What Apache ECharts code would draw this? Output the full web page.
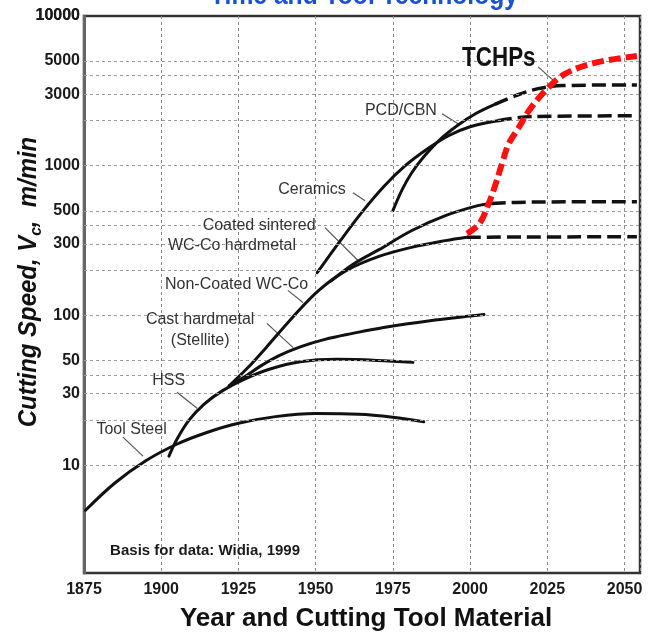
<!DOCTYPE html>
<html>
<head>
<meta charset="utf-8">
<script src="https://cdn.jsdelivr.net/npm/echarts@6/dist/echarts.min.js"></script>
<style>
html,body{margin:0;padding:0;background:#fff;}
#chart{width:657px;height:638px;}
</style>
</head>
<body>
<div id="chart"></div>
<script>
// ---------- data ----------
const xTickLabels = [1875, 1900, 1925, 1950, 1975, 2000, 2025, 2050];
const yGridValues = [10000, 5000, 4000, 3000, 2000, 1000, 500, 400, 300, 200, 100, 50, 40, 30, 20, 10];
const yTickLabels = [10000, 5000, 3000, 1000, 500, 300, 100, 50, 30, 10];

const toolSteelYears = [1875.5, 1885, 1895, 1905, 1915, 1925, 1937, 1950, 1964, 1975, 1985];
const toolSteelSpeed = [5.0, 7.6, 10.7, 13.8, 16.6, 19.05, 21.1, 22.1, 21.9, 20.9, 19.5];

const hssYears = [1902.5, 1905, 1909, 1914, 1920, 1927, 1935, 1945, 1957, 1970, 1981.5];
const hssSpeed = [11.5, 14.8, 20, 25.7, 31.6, 37.6, 43.7, 49, 50.9, 50.1, 48.6];

const castYears = [1922, 1927, 1932, 1938, 1945, 1953, 1962, 1972, 1987, 2004.5];
const castSpeed = [33.9, 38.9, 45.7, 53.7, 61.7, 69.2, 75.9, 83.2, 92.3, 101.6];

const nonCoatedYears = [1922, 1928, 1934, 1942.5, 1951, 1960, 1970.5, 1981, 1992, 1999];
const nonCoatedSpeed = [33.9, 44.7, 61.2, 97, 147, 200, 248, 285, 316, 333];
const nonCoatedFutureYears = [1999, 2054];
const nonCoatedFutureSpeed = [333, 336];

const coatedYears = [1955, 1962, 1970.5, 1981, 1992, 2002.5, 2007];
const coatedSpeed = [170, 219, 275, 368, 464, 541, 560];
const coatedFutureYears = [2007, 2020, 2054];
const coatedFutureSpeed = [560, 572, 575];

const ceramicsYears = [1950.5, 1958, 1965, 1972, 1979, 1986, 1993, 2000, 2009];
const ceramicsSpeed = [193, 316, 490, 724, 1000, 1288, 1585, 1820, 1995];
const ceramicsFutureYears = [2009, 2020, 2054];
const ceramicsFutureSpeed = [1995, 2130, 2154];

const pcdYears = [1975, 1978, 1981, 1985, 1990, 1996, 2002, 2008];
const pcdSpeed = [501, 692, 891, 1148, 1479, 1862, 2239, 2570];
const pcdFutureYears = [2008, 2015, 2022, 2030, 2054];
const pcdFutureSpeed = [2570, 2951, 3273, 3428, 3467];

const tchpYears = [1999, 2003, 2006, 2008.3, 2010.3, 2012.5, 2015.7, 2019, 2024.3, 2030.7, 2040.3, 2054];
const tchpSpeed = [352, 410, 558, 759, 1032, 1402, 1792, 2326, 3162, 4102, 4862, 5412];

const annoLabels = ['TCHPs', 'PCD/CBN', 'Ceramics', 'Coated sintered', 'WC-Co hardmetal', 'Non-Coated WC-Co', 'Cast hardmetal', '(Stellite)', 'HSS', 'Tool Steel', 'Basis for data: Widia, 1999'];
const annoYears = [2009.3, 1977.6, 1948.8, 1931.7, 1922.9, 1924.4, 1912.6, 1912.6, 1902.4, 1890.4, 1914.2];
const annoSpeeds = [5248, 2326, 697, 401, 293, 160, 93.3, 67.6, 36.9, 17.3, 2.67];

const leaderFromYears = [2022, 1990.9, 1962.1, 1953.0, 1941.0, 1934.2, 1905.1, 1887.6];
const leaderFromSpeeds = [4571, 2222, 661, 386, 147, 88.5, 30.7, 15.4];
const leaderToYears = [2027.8, 1996.1, 1966.0, 1963.7, 1945.9, 1942.7, 1911.6, 1894.1];
const leaderToSpeeds = [3589, 1905, 584, 233, 122, 61, 24, 11.5];

// ---------- chart ----------
const zip = (a, b) => a.map((v, i) => [v, b[i]]);
const FONT = '"Liberation Sans", Arial, sans-serif';

const solid = (name, xs, ys, extra) => Object.assign({
  type: 'line', name: name, data: zip(xs, ys), smooth: 0.35, showSymbol: false, symbol: 'none',
  lineStyle: { color: '#111', width: 3, cap: 'round' }, silent: true, z: 3
}, extra || {});
const dashed = (name, xs, ys) => ({
  type: 'line', name: name, data: zip(xs, ys), smooth: 0.35, showSymbol: false, symbol: 'none',
  lineStyle: { color: '#111', width: 3.5, type: [14, 6] }, silent: true, z: 3
});

const chart = echarts.init(document.getElementById('chart'), null, { renderer: 'canvas' });

const option = {
  animation: false,
  backgroundColor: '#fff',
  grid: { left: 84, right: 17, top: 16, bottom: 65, show: true, borderColor: '#333', borderWidth: 2.5, backgroundColor: '#fff' },
  xAxis: {
    type: 'value', min: 1875, max: 2055, interval: 25,
    axisLine: { show: false }, axisTick: { show: false },
    splitLine: { show: true, lineStyle: { color: '#8a8a8a', width: 1, type: [3, 3] } },
    axisLabel: {
      margin: 9, color: '#1a1a1a', fontFamily: FONT, fontWeight: 'bold', fontSize: 16,
      formatter: v => xTickLabels.includes(v) ? String(v) : ''
    }
  },
  yAxis: {
    type: 'log', logBase: 10, min: 1.905, max: 10000,
    axisLabel: { show: false }, axisTick: { show: false }, splitLine: { show: false },
    axisLine: { show: true, lineStyle: { color: '#666', width: 3 } }
  },
  series: [
    solid('Tool Steel', toolSteelYears, toolSteelSpeed, {
      markLine: {
        silent: true, symbol: ['none', 'none'], animation: false,
        lineStyle: { color: '#9a9a9a', width: 1, type: [3, 3] },
        label: {
          position: 'start', distance: 4, color: '#1a1a1a', fontFamily: FONT, fontWeight: 'bold', fontSize: 16,
          formatter: p => String(p.value)
        },
        emphasis: { disabled: true },
        data: yGridValues.map(v => ({
          yAxis: v,
          lineStyle: v === 10000 ? { color: 'rgba(0,0,0,0)', width: 0 } : {},
          label: { show: yTickLabels.includes(v), color: '#1a1a1a', opacity: 1 }
        }))
      }
    }),
    solid('HSS', hssYears, hssSpeed),
    solid('Cast hardmetal', castYears, castSpeed),
    solid('Non-Coated WC-Co', nonCoatedYears, nonCoatedSpeed),
    dashed('Non-Coated WC-Co future', nonCoatedFutureYears, nonCoatedFutureSpeed),
    solid('Coated', coatedYears, coatedSpeed),
    dashed('Coated future', coatedFutureYears, coatedFutureSpeed),
    solid('Ceramics', ceramicsYears, ceramicsSpeed),
    dashed('Ceramics future', ceramicsFutureYears, ceramicsFutureSpeed),
    solid('PCD/CBN', pcdYears, pcdSpeed),
    dashed('PCD/CBN future', pcdFutureYears, pcdFutureSpeed),
    {
      type: 'lines', coordinateSystem: 'cartesian2d', silent: true, z: 2,
      lineStyle: { color: '#555', width: 1.2, opacity: 1 },
      data: leaderFromYears.map((y, i) => ({ coords: [[y, leaderFromSpeeds[i]], [leaderToYears[i], leaderToSpeeds[i]]] }))
    },
    {
      type: 'line', name: 'TCHPs', data: zip(tchpYears, tchpSpeed), smooth: 0.35, showSymbol: false, symbol: 'none',
      lineStyle: { color: '#ff1010', width: 6, type: [12, 5] }, silent: true, z: 5
    }
  ]
};
chart.setOption(option);

// annotation texts placed at data coordinates
const textStyleFor = i => {
  if (i === 0) return { font: 'bold 28px ' + FONT, fill: '#111' };
  if (i === annoLabels.length - 1) return { font: 'bold 15px ' + FONT, fill: '#1a1a1a' };
  return { font: '16px ' + FONT, fill: '#333' };
};
const graphics = annoLabels.map((t, i) => {
  const p = chart.convertToPixel({ gridIndex: 0 }, [annoYears[i], annoSpeeds[i]]);
  return {
    type: 'text', x: p[0], y: p[1], z: 10, silent: true,
    scaleX: i === 0 ? 0.8 : 1,
    style: Object.assign({ text: t, align: 'center', verticalAlign: 'middle' }, textStyleFor(i))
  };
});
// 10000 label at the top of the log axis
const topPix = chart.convertToPixel({ gridIndex: 0 }, [1875, yTickLabels[0]]);
graphics.push({
  type: 'text', x: topPix[0] - 4, y: topPix[1], z: 10, silent: true,
  style: { text: String(yTickLabels[0]), font: 'bold 16px ' + FONT, fill: '#1a1a1a', align: 'right', verticalAlign: 'middle' }
});
graphics.push({
  type: 'text', x: 364, y: 10, z: 10, silent: true, scaleX: 0.88,
  style: { text: 'Time and Tool Technology', font: 'bold 28px ' + FONT, fill: '#1a4fd6', align: 'center', verticalAlign: 'bottom' }
});
graphics.push({
  type: 'text', x: 366, y: 619, z: 10, silent: true,
  style: { text: 'Year and Cutting Tool Material', font: 'bold 26px ' + FONT, fill: '#111', align: 'center', verticalAlign: 'middle' }
});
graphics.push({
  type: 'text', x: 27, y: 282, rotation: Math.PI / 2, z: 10, silent: true, scaleX: 0.92,
  style: {
    text: '{a|Cutting Speed, V}{b|c}{a|,  m/min}', align: 'center', verticalAlign: 'middle',
    rich: {
      a: { font: 'italic bold 26px ' + FONT, fill: '#111', lineHeight: 30, verticalAlign: 'bottom' },
      b: { font: 'italic bold 17px ' + FONT, fill: '#111', lineHeight: 30, verticalAlign: 'bottom', padding: [0, 0, -3, 0] }
    }
  }
});
chart.setOption({ graphic: graphics });
</script>
</body>
</html>
